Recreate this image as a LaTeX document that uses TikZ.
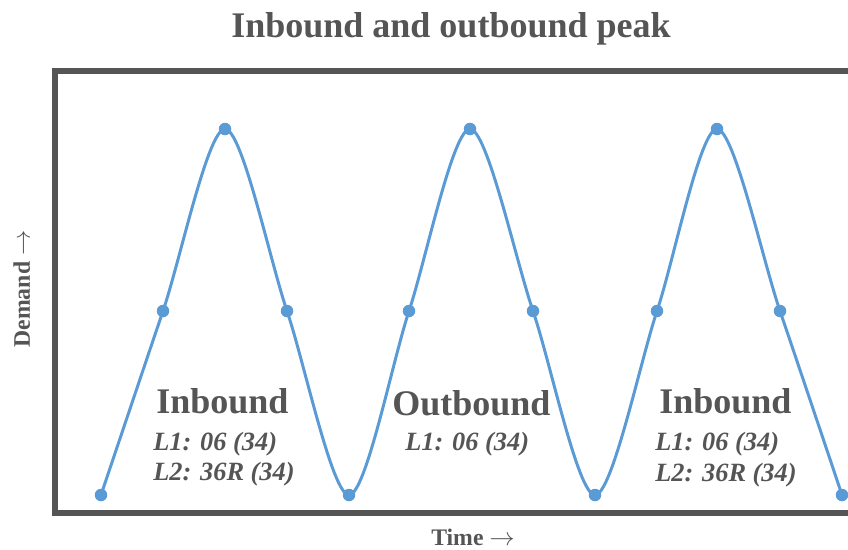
\documentclass[tikz,border=0pt]{standalone}
\usepackage{fontspec}
\setmainfont{Liberation Serif}
\usetikzlibrary{positioning}
\definecolor{curveblue}{HTML}{5B9BD5}
\definecolor{chartgray}{HTML}{555555}

\begin{document}
\begin{tikzpicture}[
  x=0.02cm, y=-0.02cm,
  every node/.style={text=chartgray, inner sep=0pt},
  peaklabel/.style={font=\fontsize{20.5}{24}\selectfont\bfseries, anchor=base west},
  runway/.style={font=\fontsize{15}{18}\selectfont\bfseries\itshape, anchor=base west},
  axislabel/.style={font=\fontsize{13.5}{16}\selectfont\bfseries, anchor=base},
  demand/.style={curveblue, line width=1.7pt},
  marker/.style={fill=curveblue, circle, inner sep=0pt, minimum size=0.25cm}
]
\useasboundingbox (0,0) rectangle (848,549);
% plot frame, its right side lies past the page
\begin{scope}
  \clip (0,0) rectangle (848,549);
  \draw[chartgray, line width=2.9pt] (900,71) -- (55,71) -- (55,513) -- (900,513);
\end{scope}
\node[font=\fontsize{20.5}{24}\selectfont\bfseries, anchor=base] (title) at (451,37)
  {Inbound and outbound peak};
\node[axislabel, rotate=90] (ylabel) at (30,289) {Demand $\rightarrow$};
\node[axislabel] (xlabel) at (473,545) {Time $\rightarrow$};
% demand curve
\foreach \i/\x/\y in {0/101/495, 1/163/311, 2/225/129, 3/287/311, 4/349/495,
  5/409/311, 6/470/129, 7/533/311, 8/595/495, 9/657/311, 10/717/129,
  11/780/311, 12/842/495}
  \coordinate (p\i) at (\x,\y);
\draw[demand] plot[smooth, tension=0.5] coordinates {(p0) (p1) (p2) (p3) (p4)
  (p5) (p6) (p7) (p8) (p9) (p10) (p11) (p12)};
\foreach \i in {0,...,12}
  \node[marker] (dot\i) at (p\i) {};
% peak labels
\node[peaklabel] (inA) at (156,413) {Inbound};
\node[runway] (inAone) at (153,450) {L1: 06 (34)};
\node[runway] (inAtwo) at (153,480) {L2: 36R (34)};
\node[peaklabel] (outB) at (392,415) {Outbound};
\node[runway] (outBone) at (405,450) {L1: 06 (34)};
\node[peaklabel] (inC) at (659,413) {Inbound};
\node[runway] (inCone) at (655,450) {L1: 06 (34)};
\node[runway] (inCtwo) at (655,481) {L2: 36R (34)};
\end{tikzpicture}
\end{document}
